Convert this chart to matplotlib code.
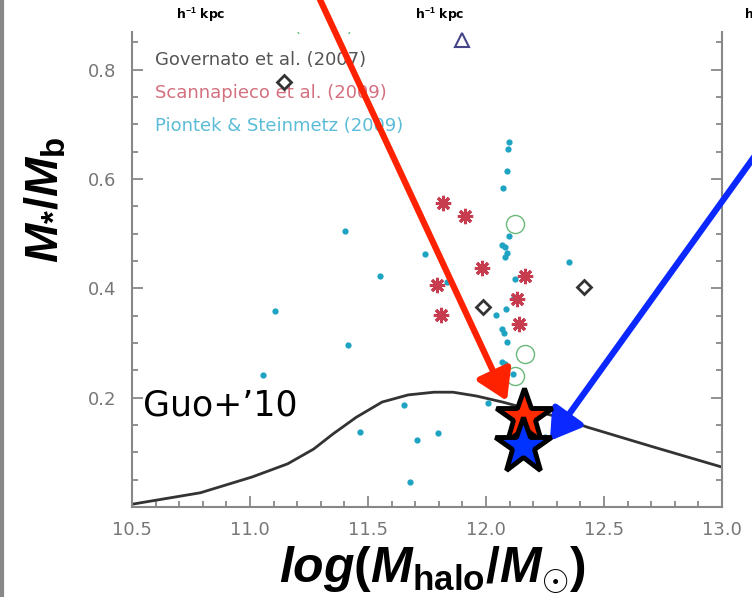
import matplotlib
matplotlib.use("Agg")
import matplotlib.pyplot as plt
from matplotlib.ticker import MultipleLocator, FixedLocator, FormatStrFormatter

plt.rcParams['mathtext.fontset'] = 'custom'
plt.rcParams['mathtext.it'] = 'Liberation Sans:italic:bold'
plt.rcParams['mathtext.rm'] = 'Liberation Sans:bold'
plt.rcParams['mathtext.bf'] = 'Liberation Sans:bold'

# Guo+'10 relation
guo_x = [10.5, 10.79, 11.01, 11.16, 11.27, 11.35, 11.45, 11.56, 11.67, 11.78,
         11.86, 11.96, 12.07, 12.31, 12.43, 12.7, 13.0]
guo_y = [0.005, 0.026, 0.055, 0.079, 0.106, 0.133, 0.164, 0.192, 0.205, 0.210,
         0.210, 0.203, 0.192, 0.164, 0.146, 0.111, 0.073]

# Piontek & Steinmetz (2009)
piontek_x = [12.097, 12.093, 12.089, 12.072, 11.403, 11.742, 12.097, 12.068, 12.080,
             12.089, 12.080, 11.551, 11.835, 12.123, 12.119, 12.085, 12.042, 11.106,
             12.352, 12.068, 12.076, 12.089, 11.415, 12.068, 12.080, 12.114, 11.055,
             11.653, 12.008, 11.466, 11.708, 11.797, 11.678, 12.25]
piontek_y = [0.668, 0.655, 0.614, 0.583, 0.504, 0.462, 0.495, 0.480, 0.475,
             0.464, 0.457, 0.422, 0.411, 0.418, 0.385, 0.363, 0.352, 0.358,
             0.449, 0.325, 0.318, 0.301, 0.296, 0.265, 0.261, 0.243, 0.241,
             0.186, 0.190, 0.137, 0.122, 0.135, 0.046, 0.128]

# Scannapieco et al. (2009)
scanna_x = [11.818, 11.911, 11.983, 11.792, 11.810, 12.165, 12.131, 12.140]
scanna_y = [0.557, 0.532, 0.438, 0.407, 0.352, 0.422, 0.380, 0.334]

# Governato et al. (2007)
gov_x = [11.144, 11.987, 12.415]
gov_y = [0.778, 0.365, 0.402]

# Okamoto et al. (2005)
oka_x = [12.123, 12.165, 12.123]
oka_y = [0.517, 0.279, 0.239]

# other (triangle)
tri_x = [11.898]
tri_y = [0.855]

# highlighted galaxies
red_star = (12.16, 0.165)
blue_star = (12.155, 0.112)
red_tip = (12.089, 0.194)
blue_tip = (12.271, 0.121)

legend_labels = ["Okamoto et al. (2005)", "Governato et al. (2007)",
                 "Scannapieco et al. (2009)", "Piontek & Steinmetz (2009)"]
legend_colors = ['#6ab87a', '#555555', '#d4707f', '#5bbcd8']

x_ticks = [10.5, 11.0, 11.5, 12.0, 12.5, 13.0]
y_ticks = [0.2, 0.4, 0.6, 0.8]

fig = plt.figure(figsize=(7.52, 5.97), dpi=100)
ax = fig.add_axes([0.1755, 0.1508, 0.7845, 0.7956])

ax.plot(guo_x, guo_y, color='#333333', lw=2, zorder=2)
ax.plot(piontek_x, piontek_y, 'o', color='#1fa3c3', ms=4.5, mec='none', zorder=3)
ax.plot(scanna_x, scanna_y, marker=(8, 2, 0), ls='none', color='#c83c50',
        ms=11, mew=2.2, zorder=3)
ax.plot(gov_x, gov_y, 'D', mfc='none', mec='#333333', ms=7.5, mew=2, zorder=3)
ax.plot(oka_x, oka_y, 'o', mfc='none', mec='#6ab87a', ms=13, mew=1, zorder=3)
ax.plot(tri_x, tri_y, '^', mfc='none', mec='#444488', ms=10, mew=1.5, zorder=3)

for i, (lab, col) in enumerate(zip(legend_labels, legend_colors)):
    ax.text(0.039, 1.010 - 0.069 * i, lab, transform=ax.transAxes, color=col,
            fontsize=13, va='center', ha='left', clip_on=True, zorder=1)

ax.text(10.545, 0.185, "Guo+\u201910", fontsize=25, color='black',
        va='center', ha='left', zorder=5)

# arrows
ax.annotate('', xy=red_tip, xycoords='data', xytext=(0.4132, 1.034),
            textcoords='figure fraction', annotation_clip=False,
            arrowprops=dict(arrowstyle='-|>,head_length=0.45,head_width=0.28',
                            color='#ff2200', lw=4.5, mutation_scale=40,
                            shrinkA=0, shrinkB=0), zorder=6)
ax.annotate('', xy=blue_tip, xycoords='data', xytext=(1.0266, 0.7789),
            textcoords='figure fraction', annotation_clip=False,
            arrowprops=dict(arrowstyle='-|>,head_length=0.45,head_width=0.28',
                            color='#0a28ff', lw=4.5, mutation_scale=40,
                            shrinkA=0, shrinkB=0), zorder=6)

ax.plot(*red_star, marker='*', color='#ff2a00', mec='black', mew=3.5, ms=42, zorder=7)
ax.plot(*blue_star, marker='*', color='#0033ff', mec='black', mew=3.5, ms=42, zorder=8)

ax.set_xlim(10.5, 13.0)
ax.set_ylim(0.0, 0.869)
ax.xaxis.set_major_locator(FixedLocator(x_ticks))
ax.xaxis.set_minor_locator(MultipleLocator(0.1))
ax.xaxis.set_major_formatter(FormatStrFormatter('%.1f'))
ax.yaxis.set_major_locator(FixedLocator(y_ticks))
ax.yaxis.set_minor_locator(MultipleLocator(0.05))
ax.yaxis.set_major_formatter(FormatStrFormatter('%.1f'))

for side in ['left', 'bottom', 'right']:
    ax.spines[side].set_color('#888888')
    ax.spines[side].set_linewidth(1.5)
ax.spines['top'].set_visible(False)
ax.tick_params(which='both', direction='in', color='#888888', width=1.3,
               labelcolor='#777777', labelsize=13, right=True, top=False)
ax.tick_params(which='major', length=8)
ax.tick_params(which='minor', length=4)
ax.tick_params(axis='y', pad=11)
ax.tick_params(axis='x', pad=10)

ax.set_xlabel(r'$log(M_{\rm halo}/M_{\odot})$', fontsize=36, color='black')
ax.xaxis.set_label_coords(0.51, -0.078)
ax.xaxis.label.set_verticalalignment('top')
ax.set_ylabel(r'$M_{*}/M_{\rm b}$', fontsize=34, color='black')
ax.yaxis.set_label_coords(-0.146, 0.646)
ax.yaxis.label.set_verticalalignment('center')

# header labels from the panel above
for xp in [0.267, 0.585, 0.99]:
    fig.text(xp, 0.975, r'h$^{-1}$ kpc', fontsize=9, fontweight='bold',
             ha='left' if xp > 0.9 else 'center', va='center')

fig.add_artist(plt.Line2D([0.002, 0.002], [0, 1], color='#888888', lw=3,
                          transform=fig.transFigure))

fig.savefig('out.png', dpi=100)
